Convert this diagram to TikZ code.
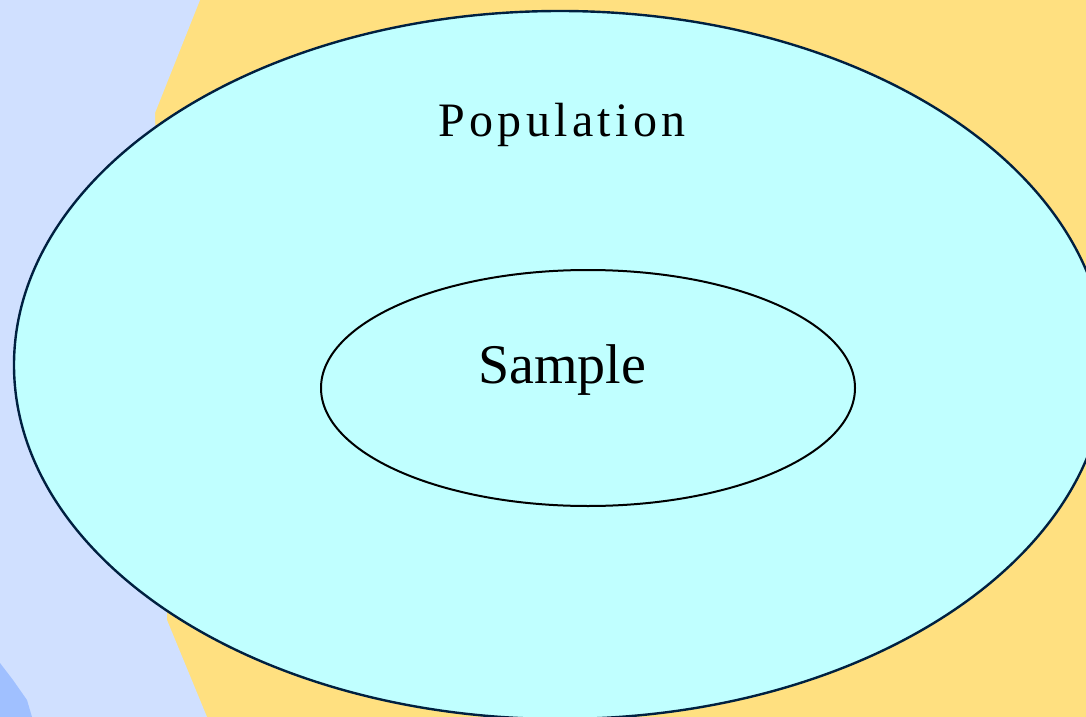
\documentclass[tikz,border=0pt]{standalone}
\usepackage{fontspec}
\setmainfont{Liberation Serif}
\newfontfamily\popfont[LetterSpace=9]{Liberation Serif}

\definecolor{popfill}{HTML}{C0FFFF}
\definecolor{popedge}{HTML}{002040}
\definecolor{orangedots}{HTML}{FFE080}
\definecolor{bluedots}{HTML}{D0E0FF}
\definecolor{bluesolid}{HTML}{A0C0FF}

\begin{document}
\begin{tikzpicture}[x=0.75pt,y=-0.75pt]
\useasboundingbox (0,0) rectangle (1086,717);
\clip (0,0) rectangle (1086,717);

\coordinate (P) at (560,365);
\coordinate (S) at (588,388);

\begin{scope}
  \fill[orangedots] (0,0) rectangle (1086,717);
  \fill[bluedots] (0,0) -- (200,0) -- (155,113) -- (167,620) -- (207,717) -- (0,717) -- cycle;
  \fill[bluesolid] (0,663) -- (13,680) -- (27,700) -- (32,717) -- (0,717) -- cycle;
\end{scope}

\draw[popedge, fill=popfill, line width=1.8pt] (P) ellipse [x radius=546, y radius=354];
\draw[black, line width=1.5pt] (S) ellipse [x radius=267, y radius=118];

\node[anchor=base, inner sep=0pt, font=\popfont\fontsize{36}{40}\selectfont] (population) at (562,137) {Population};
\node[anchor=base, inner sep=0pt, font=\fontsize{42}{46}\selectfont] (sample) at (562,383) {Sample};
\end{tikzpicture}
\end{document}
